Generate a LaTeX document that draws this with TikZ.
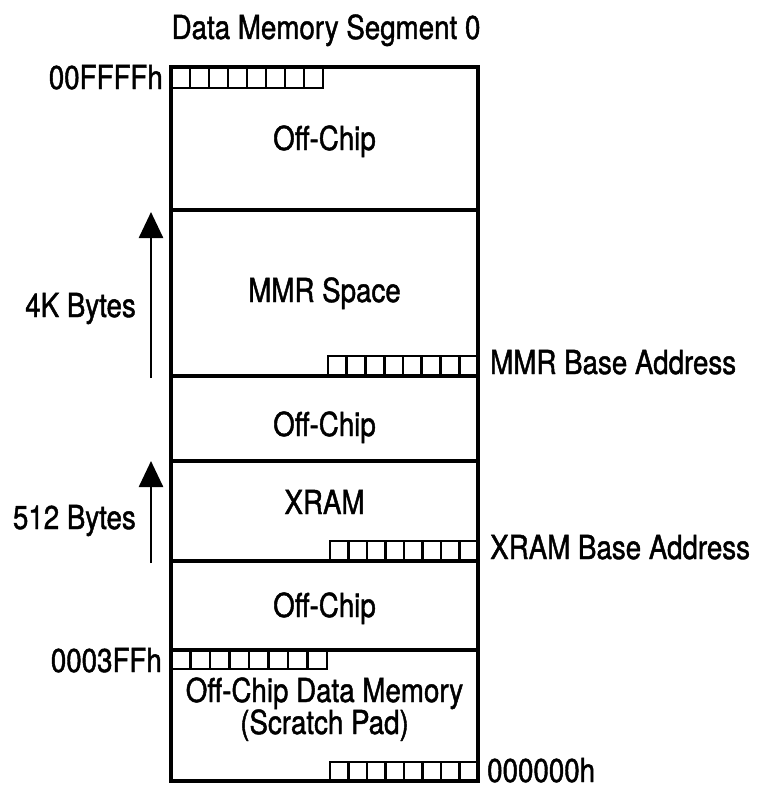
\documentclass[tikz,border=0pt]{standalone}
\usepackage{fontspec}
\setmainfont{TeX Gyre Heros}[FakeStretch=0.84,FakeBold=1.3]
\usetikzlibrary{arrows.meta}
\begin{document}
\begin{tikzpicture}[x=1pt,y=-1pt,
  lbl/.style={inner sep=0pt,font=\fontsize{33}{38}\selectfont},
  boxline/.style={line width=3.2pt},
  regline/.style={line width=2.8pt},
  sizearrow/.style={line width=2.6pt,-{Triangle[length=26pt,width=24pt]}}]
\useasboundingbox (0,0) rectangle (761,792);
% main column
\draw[boxline] (171,67) rectangle (478,781);
\foreach \yy in {210,376,461,561,650}{\draw[boxline] (171,\yy) -- (478,\yy);}
% registers
\newcommand\regrow[4]{%
  \draw[regline] (#1,#2) rectangle (#3,#4);
  \foreach \k in {1,...,7}{\draw[regline] ({#1+(#3-#1)*\k/8},#2) -- ({#1+(#3-#1)*\k/8},#4);}}
\regrow{171}{67}{323}{88}
\regrow{328}{356}{478}{376}
\regrow{330}{541}{478}{561}
\regrow{171}{650}{327}{669}
\regrow{330}{762}{478}{781}
% arrows
\coordinate (a1s) at (151,378);
\coordinate (a1e) at (151,212);
\coordinate (a2s) at (151,563);
\coordinate (a2e) at (151,461);
\draw[sizearrow] (a1s) -- (a1e);
\draw[sizearrow] (a2s) -- (a2e);
% texts
\node[lbl,anchor=base] (title) at (326,39) {Data Memory Segment 0};
\node[lbl,anchor=base] (oc1) at (324.5,150) {Off-Chip};
\node[lbl,anchor=base] (mmr) at (324.5,302) {MMR Space};
\node[lbl,anchor=base] (oc2) at (324.5,436) {Off-Chip};
\node[lbl,anchor=base] (xram) at (324.5,514) {XRAM};
\node[lbl,anchor=base] (oc3) at (324.5,617) {Off-Chip};
\node[lbl,anchor=base] (sp1) at (324.5,702) {Off-Chip Data Memory};
\node[lbl,anchor=base] (sp2) at (324.5,734) {(Scratch Pad)};
\node[lbl,anchor=base east] (fff) at (163,89) {00FFFFh};
\node[lbl,anchor=base east] (k4) at (136,317) {4K Bytes};
\node[lbl,anchor=base east] (b512) at (136,529) {512 Bytes};
\node[lbl,anchor=base east] (3ff) at (162,672) {0003FFh};
\node[lbl,anchor=base west] (mmrb) at (490,374) {MMR Base Address};
\node[lbl,anchor=base west] (xramb) at (490,559) {XRAM Base Address};
\node[lbl,anchor=base west] (zero) at (487,782) {000000h};
\end{tikzpicture}
\end{document}
